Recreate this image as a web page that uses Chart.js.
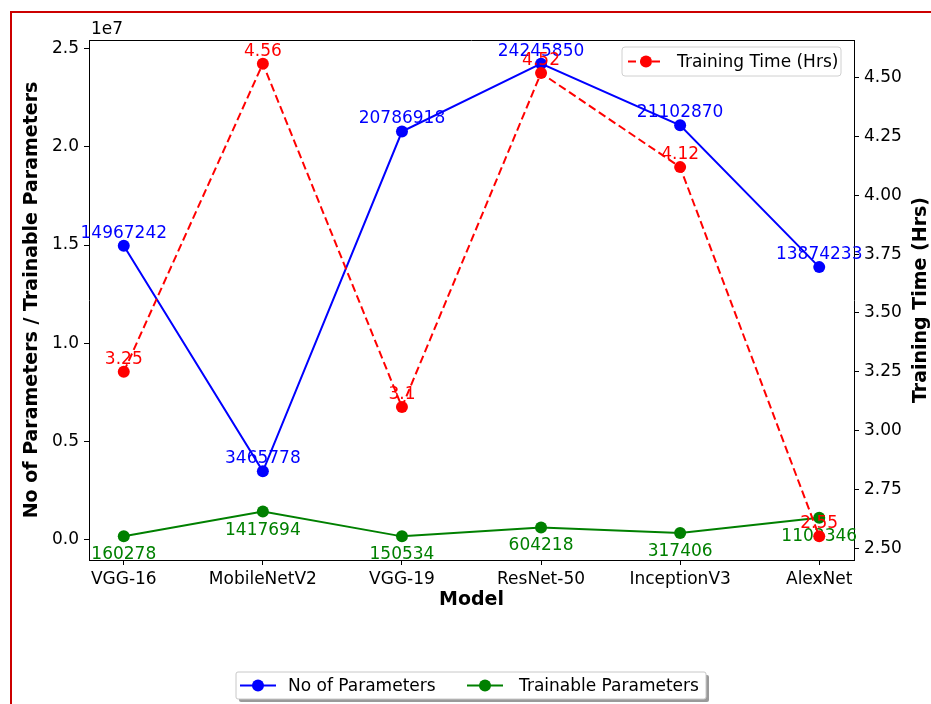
<!DOCTYPE html>
<html>
<head>
<meta charset="utf-8">
<script src="https://cdn.jsdelivr.net/npm/chart.js@4.4.0/dist/chart.umd.min.js"></script>
<style>
  html, body { margin: 0; padding: 0; background: #fff; }
  #wrap { width: 931px; height: 704px; }
</style>
</head>
<body>
<div id="wrap"><canvas id="c" width="931" height="704"></canvas></div>
<script>
// ---- data ----
const models = ['VGG-16', 'MobileNetV2', 'VGG-19', 'ResNet-50', 'InceptionV3', 'AlexNet'];
const totalParams = [14967242, 3465778, 20786918, 24245850, 21102870, 13874233];
const trainableParams = [160278, 1417694, 150534, 604218, 317406, 1103346];
const trainingHours = [3.25, 4.56, 3.1, 4.52, 4.12, 2.55];
const paramTicks = [0, 5e6, 1e7, 1.5e7, 2e7, 2.5e7];
const hourTicks = [2.5, 2.75, 3.0, 3.25, 3.5, 3.75, 4.0, 4.25, 4.5];

const FONT = 'DejaVu Sans';
const TEXT_SIZE = 17;
const BLUE = '#0000ff', GREEN = '#008000', RED = '#ff0000';

// 5% margin around the data on each axis
function paddedRange(vals, frac) {
  const lo = Math.min(...vals), hi = Math.max(...vals), m = (hi - lo) * frac;
  return [lo - m, hi + m];
}
const [pMin, pMax] = paddedRange(totalParams.concat(trainableParams), 0.05);
const [hMin, hMax] = paddedRange(trainingHours, 0.05);
const xMargin = (models.length - 1) * 0.05;

const toPoints = vals => vals.map((v, i) => ({ x: i, y: v }));

// value labels drawn right after each line
const valueLabels = {
  id: 'valueLabels',
  beforeDraw(chart) {
    const ctx = chart.ctx;
    ctx.save();
    ctx.fillStyle = '#fff';
    ctx.fillRect(0, 0, chart.width, chart.height);
    ctx.restore();
  },
  afterDatasetDraw(chart, args) {
    const ds = chart.data.datasets[args.index];
    const meta = args.meta;
    const ctx = chart.ctx;
    ctx.save();
    ctx.font = TEXT_SIZE + 'px "' + FONT + '"';
    ctx.fillStyle = ds.borderColor;
    ctx.textAlign = 'center';
    ctx.textBaseline = 'alphabetic';
    meta.data.forEach((el, i) => {
      ctx.fillText(String(ds.data[i].y), el.x, el.y + ds.labelShift);
    });
    ctx.restore();
  }
};

function roundRect(ctx, x, y, w, h, r) {
  ctx.beginPath();
  ctx.moveTo(x + r, y);
  ctx.lineTo(x + w - r, y);
  ctx.quadraticCurveTo(x + w, y, x + w, y + r);
  ctx.lineTo(x + w, y + h - r);
  ctx.quadraticCurveTo(x + w, y + h, x + w - r, y + h);
  ctx.lineTo(x + r, y + h);
  ctx.quadraticCurveTo(x, y + h, x, y + h - r);
  ctx.lineTo(x, y + r);
  ctx.quadraticCurveTo(x, y, x + r, y);
  ctx.closePath();
}

function legendEntry(ctx, ds, x1, x2, y, textX) {
  ctx.save();
  ctx.strokeStyle = ds.borderColor;
  ctx.lineWidth = ds.borderWidth;
  ctx.setLineDash(ds.borderDash || []);
  ctx.beginPath();
  ctx.moveTo(x1, y);
  ctx.lineTo(x2, y);
  ctx.stroke();
  ctx.setLineDash([]);
  ctx.fillStyle = ds.pointBackgroundColor;
  ctx.beginPath();
  ctx.arc((x1 + x2) / 2, y, ds.pointRadius, 0, Math.PI * 2);
  ctx.fill();
  ctx.fillStyle = '#000';
  ctx.font = TEXT_SIZE + 'px "' + FONT + '"';
  ctx.textAlign = 'left';
  ctx.textBaseline = 'middle';
  ctx.fillText(ds.label, textX, y + 1);
  ctx.restore();
}

// frame, top spine, exponent text, right axis title and legends
const decorations = {
  id: 'decorations',
  afterDraw(chart) {
    const ctx = chart.ctx;
    const a = chart.chartArea;
    const ds = chart.data.datasets;
    ctx.save();

    // top spine
    ctx.strokeStyle = '#000';
    ctx.lineWidth = 1;
    ctx.beginPath();
    ctx.moveTo(a.left, Math.round(a.top) + 0.5);
    ctx.lineTo(a.right, Math.round(a.top) + 0.5);
    ctx.stroke();

    // outer frame
    ctx.strokeStyle = '#cc0000';
    ctx.lineWidth = 2;
    ctx.strokeRect(11, 12, 1000, 1000);

    // exponent of the left axis
    ctx.fillStyle = '#000';
    ctx.font = TEXT_SIZE + 'px "' + FONT + '"';
    ctx.textAlign = 'left';
    ctx.textBaseline = 'middle';
    ctx.fillText('1e7', a.left + 2, a.top - 10);

    // right axis title, reading bottom to top
    ctx.save();
    ctx.translate(921, (a.top + a.bottom) / 2);
    ctx.rotate(-Math.PI / 2);
    ctx.font = 'bold 19px "' + FONT + '"';
    ctx.textAlign = 'center';
    ctx.textBaseline = 'middle';
    ctx.fillText('Training Time (Hrs)', 0, 0);
    ctx.restore();

    // legend for the training time line
    roundRect(ctx, 622, 47, 219, 29, 3);
    ctx.fillStyle = 'rgba(255,255,255,0.9)';
    ctx.fill();
    ctx.strokeStyle = '#d0d0d0';
    ctx.lineWidth = 1;
    ctx.stroke();
    legendEntry(ctx, ds[0], 628, 664, 61.5, 677);

    // legend for the parameter lines, with shadow
    roundRect(ctx, 239, 675, 470, 27, 2);
    ctx.fillStyle = '#9a9a9a';
    ctx.fill();
    roundRect(ctx, 236, 672, 470, 27, 2);
    ctx.fillStyle = '#fff';
    ctx.fill();
    ctx.strokeStyle = '#c8c8c8';
    ctx.stroke();
    legendEntry(ctx, ds[1], 240, 276, 685.5, 288);
    legendEntry(ctx, ds[2], 467, 503, 685.5, 519);

    ctx.restore();
  }
};

const tickFont = { family: FONT, size: TEXT_SIZE };

new Chart(document.getElementById('c'), {
  type: 'line',
  data: {
    datasets: [
      {
        label: 'Training Time (Hrs)',
        data: toPoints(trainingHours),
        yAxisID: 'y2',
        borderColor: RED,
        backgroundColor: RED,
        pointBackgroundColor: RED,
        pointBorderColor: RED,
        borderWidth: 2,
        borderDash: [8, 4],
        pointRadius: 6,
        pointBorderWidth: 0,
        fill: false,
        order: 1,
        labelShift: -8
      },
      {
        label: 'No of Parameters',
        data: toPoints(totalParams),
        yAxisID: 'y',
        borderColor: BLUE,
        backgroundColor: BLUE,
        pointBackgroundColor: BLUE,
        pointBorderColor: BLUE,
        borderWidth: 2,
        pointRadius: 6,
        pointBorderWidth: 0,
        fill: false,
        order: 3,
        labelShift: -8
      },
      {
        label: 'Trainable Parameters',
        data: toPoints(trainableParams),
        yAxisID: 'y',
        borderColor: GREEN,
        backgroundColor: GREEN,
        pointBackgroundColor: GREEN,
        pointBorderColor: GREEN,
        borderWidth: 2,
        pointRadius: 6,
        pointBorderWidth: 0,
        fill: false,
        order: 2,
        labelShift: 23
      }
    ]
  },
  options: {
    responsive: false,
    animation: false,
    devicePixelRatio: 1,
    layout: { padding: { top: 40, left: 0, right: 0, bottom: 0 } },
    elements: { line: { tension: 0 } },
    plugins: { legend: { display: false }, tooltip: { enabled: false } },
    scales: {
      x: {
        type: 'linear',
        position: 'bottom',
        min: -xMargin,
        max: models.length - 1 + xMargin,
        afterBuildTicks: s => { s.ticks = models.map((_, i) => ({ value: i })); },
        afterFit: s => { s.height = 144; },
        ticks: {
          callback: v => models[v],
          font: tickFont, color: '#000', padding: 4, autoSkip: false, maxRotation: 0
        },
        grid: { drawOnChartArea: false, drawTicks: true, tickLength: 5, tickColor: '#000' },
        border: { display: true, color: '#000', width: 1 },
        title: {
          display: true, text: 'Model', color: '#000',
          font: { family: FONT, size: 19, weight: 'bold' },
          padding: { top: 0, bottom: 93 }
        }
      },
      y: {
        type: 'linear',
        position: 'left',
        min: pMin,
        max: pMax,
        afterBuildTicks: s => { s.ticks = paramTicks.map(v => ({ value: v })); },
        afterFit: s => { s.width = 89; },
        ticks: {
          callback: v => (v / 1e7).toFixed(1),
          font: tickFont, color: '#000', padding: 5
        },
        grid: { drawOnChartArea: false, drawTicks: true, tickLength: 5, tickColor: '#000' },
        border: { display: true, color: '#000', width: 1 },
        title: {
          display: true, text: 'No of Parameters / Trainable Parameters', color: '#000',
          font: { family: FONT, size: 19, weight: 'bold' },
          padding: { top: 21, bottom: 0 }
        }
      },
      y2: {
        type: 'linear',
        position: 'right',
        min: hMin,
        max: hMax,
        afterBuildTicks: s => { s.ticks = hourTicks.map(v => ({ value: v })); },
        afterFit: s => { s.width = 77; },
        ticks: {
          callback: v => v.toFixed(2),
          font: tickFont, color: '#000', padding: 5
        },
        grid: { drawOnChartArea: false, drawTicks: true, tickLength: 5, tickColor: '#000' },
        border: { display: true, color: '#000', width: 1 }
      }
    }
  },
  plugins: [valueLabels, decorations]
});
</script>
</body>
</html>
